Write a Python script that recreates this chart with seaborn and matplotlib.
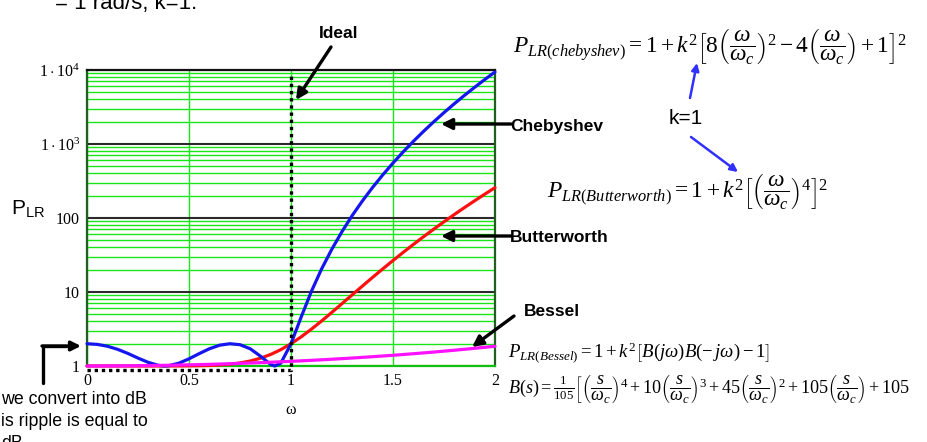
import matplotlib
matplotlib.use("Agg")
import matplotlib.pyplot as plt
import matplotlib.transforms as mtransforms
from matplotlib.lines import Line2D
from matplotlib.patches import FancyArrowPatch
from matplotlib.ticker import LogLocator, NullFormatter
import pandas as pd
import seaborn as sns

# ---- data: insertion-loss ratio P_LR versus normalised frequency (wc = 1 rad/s, k = 1)
cheb_w = [0.00, 0.05, 0.10, 0.15, 0.20, 0.25, 0.30, 0.35, 0.38, 0.40, 0.45,
          0.50, 0.55, 0.60, 0.65, 0.70, 0.75, 0.80, 0.85, 0.90, 0.92, 0.95,
          1.00, 1.05, 1.10, 1.15, 1.20, 1.25, 1.30, 1.35, 1.40, 1.45, 1.50,
          1.55, 1.60, 1.65, 1.70, 1.75, 1.80, 1.85, 1.90, 1.95, 2.00]
cheb_p = [2.00, 1.96, 1.85, 1.68, 1.48, 1.28, 1.12, 1.02, 1.00, 1.01, 1.09,
          1.25, 1.47, 1.71, 1.91, 2.00, 1.94, 1.71, 1.36, 1.05, 1.00, 1.09,
          2.00, 4.6, 10.2, 20.5, 37.8, 65.5, 108, 170, 259, 383, 553,
          783, 1087, 1485, 1999, 2657, 3489, 4534, 5834, 7440, 9410]

butter_w = [0.00, 0.05, 0.10, 0.15, 0.20, 0.25, 0.30, 0.35, 0.40, 0.45, 0.50,
            0.55, 0.60, 0.65, 0.70, 0.75, 0.80, 0.85, 0.90, 0.95, 1.00,
            1.05, 1.10, 1.15, 1.20, 1.25, 1.30, 1.35, 1.40, 1.45, 1.50,
            1.55, 1.60, 1.65, 1.70, 1.75, 1.80, 1.85, 1.90, 1.95, 2.00]
butter_p = [1.0, 1.0, 1.0, 1.0, 1.0, 1.0, 1.0001, 1.0002, 1.0007, 1.0017, 1.0039,
            1.0084, 1.0168, 1.0319, 1.0576, 1.1001, 1.1678, 1.2725, 1.4305, 1.6634, 2.0,
            2.478, 3.144, 4.059, 5.300, 6.961, 9.157, 12.03, 15.76, 20.54, 26.63,
            34.32, 43.95, 55.94, 70.76, 88.96, 111.2, 138.2, 170.8, 210.1, 257.0]

bessel_w = [0.0, 0.1, 0.2, 0.3, 0.4, 0.5, 0.6, 0.7, 0.8, 0.9, 1.0,
            1.1, 1.2, 1.3, 1.4, 1.5, 1.6, 1.7, 1.8, 1.9, 2.0]
bessel_p = [1.0, 1.0014, 1.0057, 1.0130, 1.0232, 1.0365, 1.0531, 1.0731, 1.0967, 1.1243, 1.1561,
            1.1926, 1.2342, 1.2815, 1.3352, 1.3961, 1.4651, 1.5434, 1.6322, 1.7334, 1.8486]

ideal_w = [0.0, 1.0, 1.0]
ideal_p = [1.0, 1.0, 1.0e4]

x_ticks = [0, 0.5, 1, 1.5, 2]
x_tick_labels = ["0", "0.5", "1", "1.5", "2"]
y_ticks = [1, 10, 100, 1e3, 1e4]
y_tick_labels = ["1", "10", "100", r"$1\cdot10^{3}$", r"$1\cdot10^{4}$"]

# ---- style
sns.set_style("white")
plt.rcParams["font.family"] = ["Liberation Sans", "DejaVu Sans"]
plt.rcParams["mathtext.fontset"] = "custom"
plt.rcParams["mathtext.rm"] = "Liberation Serif"
plt.rcParams["mathtext.it"] = "Liberation Serif:italic"
plt.rcParams["text.color"] = "black"

W, H = 928, 442
fig = plt.figure(figsize=(W / 100, H / 100), dpi=100)


def fx(px):
    return px / W


def fy(py):
    return 1 - py / H


ax = fig.add_axes([fx(87), fy(366), fx(495) - fx(87), fy(70) - fy(366)])

frames = [
    pd.DataFrame({"omega": cheb_w, "P": cheb_p, "filter": "Chebyshev"}),
    pd.DataFrame({"omega": butter_w, "P": butter_p, "filter": "Butterworth"}),
    pd.DataFrame({"omega": bessel_w, "P": bessel_p, "filter": "Bessel"}),
]
df = pd.concat(frames, ignore_index=True)

palette = {"Butterworth": "#ff1010", "Chebyshev": "#1515f0", "Bessel": "#ff10ff"}
sns.lineplot(data=df, x="omega", y="P", hue="filter",
             hue_order=["Butterworth", "Chebyshev", "Bessel"],
             palette=palette, estimator=None, sort=False, linewidth=2.3,
             legend=False, ax=ax, clip_on=False, zorder=4)

# ideal brick-wall response, drawn just below the frame
shift = mtransforms.offset_copy(ax.transData, fig=fig, x=0, y=-4, units="dots")
ax.plot(ideal_w, ideal_p, color="black", lw=2.4, linestyle=(0, (1.0, 1.15)),
        transform=shift, clip_on=False, zorder=5)

ax.set_yscale("log")
ax.set_xlim(0, 2)
ax.set_ylim(1, 1e4)
ax.set_xticks(x_ticks)
ax.set_xticklabels(x_tick_labels)
ax.set_yticks(y_ticks)
ax.set_yticklabels(y_tick_labels)
ax.yaxis.set_minor_locator(LogLocator(base=10, subs=range(2, 10), numticks=20))
ax.yaxis.set_minor_formatter(NullFormatter())
ax.set_xlabel("")
ax.set_ylabel("")
ax.tick_params(axis="both", which="both", length=0)
ax.tick_params(axis="x", pad=5)
ax.tick_params(axis="y", pad=5)
for lab in ax.get_xticklabels() + ax.get_yticklabels():
    lab.set_fontfamily("Liberation Serif")
    lab.set_fontsize(11.5)
    lab.set_color("black")

green = "#19e619"
ax.set_axisbelow(True)
ax.grid(which="minor", axis="y", color=green, lw=1.0)
ax.grid(which="major", axis="y", color="#2a2a2a", lw=1.5)
ax.grid(which="major", axis="x", color=green, lw=1.0)

for side, col in [("top", "#111111"), ("left", "#1f5f1f"),
                  ("right", "#1f5f1f"), ("bottom", "#10c010")]:
    ax.spines[side].set_visible(True)
    ax.spines[side].set_color(col)
    ax.spines[side].set_linewidth(1.6)

# axis titles
fig.text(fx(28), fy(209), r"$\mathregular{P_{LR}}$", fontsize=15,
         ha="center", va="center")
fig.text(fx(291), fy(410), "ω", fontsize=11.5, family="Liberation Serif",
         ha="center", va="center")


def arrow(p0, p1, color="black", lw=2.4, scale=16):
    fig.add_artist(FancyArrowPatch((fx(p0[0]), fy(p0[1])), (fx(p1[0]), fy(p1[1])),
                                   transform=fig.transFigure, arrowstyle="-|>",
                                   mutation_scale=scale, color=color, lw=lw,
                                   shrinkA=0, shrinkB=0))


bold = dict(fontsize=12.5, fontweight="bold", va="center", color="black")
fig.text(fx(339), fy(33), "Ideal", ha="center", **bold)
arrow((331, 47), (296, 100))
fig.text(fx(510), fy(127), "Chebyshev", ha="left", **bold)
arrow((511, 124), (441, 124))
fig.text(fx(510), fy(238), "Butterworth", ha="left", **bold)
arrow((511, 236), (441, 236))
fig.text(fx(524), fy(311), "Bessel", ha="left", **bold)
arrow((514, 316), (472, 347))

# bracket arrow at the lower left
fig.add_artist(Line2D([fx(43), fx(43), fx(66)], [fy(383), fy(346), fy(346)],
                      color="black", lw=2.4, solid_joinstyle="miter"))
arrow((42, 346), (81, 346), scale=14)
for txt, y in [("we convert into dB", 400), ("is ripple is equal to", 422), ("dB", 444)]:
    fig.text(fx(1), fy(y), txt, fontsize=12.8, ha="left", va="center")

# heading text running off the top edge
fig.text(fx(55), fy(9), "= 1 rad/s, k=1.", fontsize=16, ha="left", va="baseline")

# formulas
fig.text(fx(513), fy(53),
         r"$P_{LR(chebyshev)}=1+k^{2}\left[8\left(\dfrac{\omega}{\omega_c}\right)^{2}-4\left(\dfrac{\omega}{\omega_c}\right)+1\right]^{2}$",
         fontsize=16.8, ha="left", va="baseline")
fig.text(fx(547), fy(198),
         r"$P_{LR(Butterworth)}=1+k^{2}\left[\left(\dfrac{\omega}{\omega_c}\right)^{4}\right]^{2}$",
         fontsize=16.8, ha="left", va="baseline")
fig.text(fx(508), fy(358),
         r"$P_{LR(Bessel)}=1+k^{2}\left[B(j\omega)B(-\,j\omega)-1\right]$",
         fontsize=13.5, ha="left", va="baseline")
fig.text(fx(508), fy(393),
         r"$B(s)=\frac{1}{105}\left[\left(\dfrac{s}{\omega_c}\right)^{4}+10\left(\dfrac{s}{\omega_c}\right)^{3}+45\left(\dfrac{s}{\omega_c}\right)^{2}+105\left(\dfrac{s}{\omega_c}\right)+105\right.$",
         fontsize=13.1, ha="left", va="baseline")

fig.text(fx(686), fy(118), "k=1", fontsize=15, ha="center", va="center")
arrow((690, 98), (697, 63), color="#3030ff", lw=1.8, scale=11)
arrow((691, 137), (738, 172), color="#3030ff", lw=1.8, scale=11)

fig.savefig("out.png", dpi=100)
